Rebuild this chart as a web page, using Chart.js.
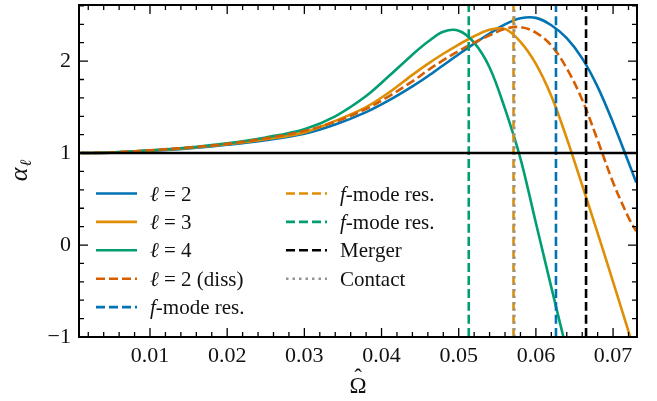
<!DOCTYPE html>
<html>
<head>
<meta charset="utf-8">
<script src="https://cdn.jsdelivr.net/npm/chart.js@4.4.1/dist/chart.umd.min.js"></script>
<style>
  html, body { margin: 0; padding: 0; background: #fff; }
  #wrap { width: 657px; height: 401px; }
</style>
</head>
<body>
<div id="wrap"><canvas id="alphaChart" width="657" height="401"></canvas></div>
<script>
// orbital frequency grid and enhancement factors per multipole
const omega = [0.001, 0.005, 0.01, 0.015, 0.02, 0.025, 0.03, 0.034, 0.038, 0.041, 0.044, 0.046, 0.048,
  0.050, 0.052, 0.054, 0.056, 0.058, 0.060, 0.062, 0.064, 0.066, 0.068, 0.070, 0.072, 0.073];
const alphaL2 = [1.0, 1.005, 1.025, 1.05, 1.09, 1.14, 1.21, 1.31, 1.445, 1.575, 1.725, 1.835, 1.955,
  2.075, 2.19, 2.30, 2.40, 2.465, 2.47, 2.39, 2.25, 2.03, 1.72, 1.33, 0.90, 0.68];
const alphaL3 = [1.0, 1.005, 1.028, 1.055, 1.095, 1.15, 1.225, 1.35, 1.50, 1.66, 1.85, 1.97, 2.08,
  2.18, 2.27, 2.34, 2.35, 2.21, 1.97, 1.62, 1.16, 0.65, 0.13, -0.40, -0.94, -1.21];
const alphaL4 = [1.0, 1.006, 1.03, 1.06, 1.105, 1.17, 1.26, 1.40, 1.62, 1.84, 2.07, 2.21, 2.32,
  2.33, 2.20, 1.93, 1.48, 0.94, 0.24, -0.46, -1.15, null, null, null, null, null];
const alphaL2Diss = [1.0, 1.006, 1.03, 1.06, 1.10, 1.16, 1.24, 1.34, 1.48, 1.62, 1.78, 1.90, 2.01,
  2.11, 2.20, 2.28, 2.35, 2.37, 2.31, 2.17, 1.92, 1.58, 1.14, 0.68, 0.30, 0.15];

// resonance / merger / contact frequencies
const fModeL2 = 0.0626;
const fModeL3 = 0.0571;
const fModeL4 = 0.0513;
const mergerOmega = 0.0665;
const contactOmega = 0.0572;

const xTicks = [0.01, 0.02, 0.03, 0.04, 0.05, 0.06, 0.07];
const yTicks = [-1, 0, 1, 2];
const xRange = [0.0008, 0.0731];
const yRange = [-1, 2.61];

const BLUE = '#0173b2', ORANGE = '#de8f05', GREEN = '#029e73', RED = '#d55e00', GREY = '#949494';
const SERIF = '"Liberation Serif", "DejaVu Serif", serif';
const DASH = [9, 4];
const DOT = [2.5, 4];

const curve = (ys) => omega.map((x, i) => ({ x, y: ys[i] })).filter(p => p.y !== null);
const vline = (xv) => [{ x: xv, y: yRange[0] }, { x: xv, y: yRange[1] }];

const datasets = [
  { label: 'ℓ = 2', data: curve(alphaL2), borderColor: BLUE, order: 20, legend: [0, 0] },
  { label: 'ℓ = 3', data: curve(alphaL3), borderColor: ORANGE, order: 19, legend: [0, 1] },
  { label: 'ℓ = 4', data: curve(alphaL4), borderColor: GREEN, order: 18, legend: [0, 2] },
  { label: 'ℓ = 2 (diss)', data: curve(alphaL2Diss), borderColor: RED, borderDash: DASH, order: 17, legend: [0, 3] },
  { label: 'f-mode res.', data: vline(fModeL2), borderColor: BLUE, borderDash: DASH, order: 6, legend: [0, 4] },
  { label: 'f-mode res.', data: vline(fModeL3), borderColor: ORANGE, borderDash: DASH, order: 5, legend: [1, 0] },
  { label: 'f-mode res.', data: vline(fModeL4), borderColor: GREEN, borderDash: DASH, order: 4, legend: [1, 1] },
  { label: 'Merger', data: vline(mergerOmega), borderColor: '#000', borderDash: DASH, order: 3, legend: [1, 2] },
  { label: 'Contact', data: vline(contactOmega), borderColor: GREY, borderDash: DOT, order: 2, legend: [1, 3] },
  { label: '', data: [{ x: xRange[0], y: 1 }, { x: xRange[1], y: 1 }], borderColor: '#000', borderWidth: 2.6, order: 0 }
];
datasets.forEach(d => {
  d.type = 'line';
  d.pointRadius = 0;
  d.tension = 0.35;
  if (d.borderWidth === undefined) d.borderWidth = 2.6;
});

// draws label text, putting ℓ and a leading f in italics
function richText(ctx, text, x, y, size) {
  let cx = x;
  for (let i = 0; i < text.length; i++) {
    const ch = text[i];
    const it = ch === 'ℓ' || (ch === 'f' && i === 0);
    ctx.font = (it ? 'italic ' : '') + size + 'px ' + SERIF;
    ctx.fillText(ch, cx, y);
    cx += ctx.measureText(ch).width;
  }
}

const decorations = {
  id: 'decorations',
  afterDatasetsDraw(chart) {
    const { ctx, chartArea: a, scales: { x, y } } = chart;
    ctx.save();
    ctx.strokeStyle = '#000';
    ctx.lineWidth = 1.3;
    ctx.setLineDash([]);
    const xt = (v, len) => {
      const p = x.getPixelForValue(v);
      ctx.moveTo(p, a.bottom); ctx.lineTo(p, a.bottom - len);
      ctx.moveTo(p, a.top); ctx.lineTo(p, a.top + len);
    };
    const yt = (v, len) => {
      const p = y.getPixelForValue(v);
      ctx.moveTo(a.left, p); ctx.lineTo(a.left + len, p);
      ctx.moveTo(a.right, p); ctx.lineTo(a.right - len, p);
    };
    ctx.beginPath();
    xTicks.forEach(v => xt(v, 9));
    for (let k = 1; k <= 36; k++) if (k % 5) xt(k * 0.002, 5);
    yTicks.forEach(v => yt(v, 9));
    for (let k = -5; k <= 13; k++) if (k % 5) yt(k * 0.2, 5);
    ctx.stroke();
    ctx.lineWidth = 2;
    ctx.strokeRect(a.left, a.top, a.width, a.height);

    // legend, two columns
    const colX = [96, 286], rowY0 = 193.5, dy = 28.4, lineLen = 41;
    chart.data.datasets.forEach(d => {
      if (!d.legend) return;
      const lx = colX[d.legend[0]], ly = rowY0 + d.legend[1] * dy;
      ctx.beginPath();
      ctx.setLineDash(d.borderDash || []);
      ctx.strokeStyle = d.borderColor;
      ctx.lineWidth = d.borderWidth;
      ctx.moveTo(lx, ly); ctx.lineTo(lx + lineLen, ly);
      ctx.stroke();
      ctx.fillStyle = '#111';
      ctx.textBaseline = 'alphabetic';
      ctx.textAlign = 'left';
      richText(ctx, d.label, lx + 54, ly + 7, 21);
    });
    ctx.setLineDash([]);

    // axis titles
    ctx.fillStyle = '#111';
    ctx.textAlign = 'center';
    ctx.font = '23px ' + SERIF;
    const cx = (a.left + a.right) / 2;
    ctx.fillText('Ω', cx, 393);
    ctx.fillText('\u02C6', cx, 385);

    ctx.save();
    ctx.translate(27, (a.top + a.bottom) / 2);
    ctx.rotate(-Math.PI / 2);
    ctx.textAlign = 'left';
    ctx.font = 'italic 26px ' + SERIF;
    const wA = ctx.measureText('α').width;
    ctx.font = 'italic 16px ' + SERIF;
    const wL = ctx.measureText('ℓ').width;
    const start = -(wA + wL) / 2;
    ctx.font = 'italic 26px ' + SERIF;
    ctx.fillText('α', start, 0);
    ctx.font = 'italic 16px ' + SERIF;
    ctx.fillText('ℓ', start + wA + 1, 4);
    ctx.restore();
    ctx.restore();
  }
};

new Chart(document.getElementById('alphaChart'), {
  type: 'line',
  data: { datasets },
  plugins: [decorations],
  options: {
    responsive: false,
    animation: false,
    devicePixelRatio: 1,
    layout: { padding: { left: 0, right: 20, top: 5, bottom: 0 } },
    plugins: { legend: { display: false }, tooltip: { enabled: false } },
    scales: {
      x: {
        type: 'linear',
        min: xRange[0],
        max: xRange[1],
        afterBuildTicks: s => { s.ticks = xTicks.map(v => ({ value: v })); },
        afterFit: s => { s.height = 64; s.paddingLeft = 0; s.paddingRight = 0; },
        grid: { display: false, drawTicks: false },
        border: { display: false },
        ticks: {
          padding: 6,
          color: '#111',
          font: { family: SERIF, size: 22 },
          callback: v => v.toFixed(2)
        }
      },
      y: {
        type: 'linear',
        min: yRange[0],
        max: yRange[1],
        afterBuildTicks: s => { s.ticks = yTicks.map(v => ({ value: v })); },
        afterFit: s => { s.width = 79; s.paddingTop = 0; s.paddingBottom = 0; },
        grid: { display: false, drawTicks: false },
        border: { display: false },
        ticks: {
          padding: 8,
          color: '#111',
          font: { family: SERIF, size: 22 },
          callback: v => (v < 0 ? '\u2212' + Math.abs(v) : String(v))
        }
      }
    }
  }
});
</script>
</body>
</html>
